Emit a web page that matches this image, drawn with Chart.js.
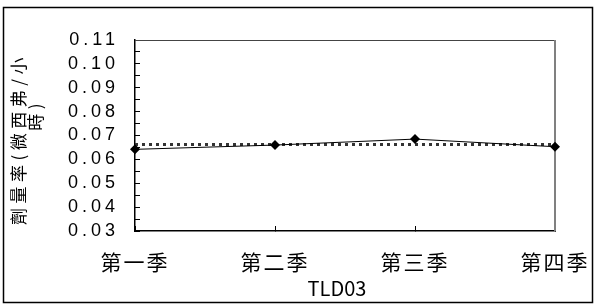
<!DOCTYPE html>
<html>
<head>
<meta charset="utf-8">
<script src="https://cdn.jsdelivr.net/npm/chart.js@4/dist/chart.umd.min.js"></script>
<style>
  html, body { margin: 0; padding: 0; background: #fff; }
  canvas { display: block; }
</style>
</head>
<body>
<canvas id="c" width="594" height="304"></canvas>
<script>
// data
var quarters = ['第一季', '第二季', '第三季', '第四季'];
var doseRate = [0.0642, 0.0660, 0.0685, 0.0653];
var avgLine = [0.0662, 0.0662, 0.0662, 0.0662];
var yTitleLines = ['劑量率(微西弗/小', '時)'];
var xTitle = 'TLD03';
var yMin = 0.03, yMax = 0.11, yStep = 0.005;

function wrapSpacing(scale, spacing) {
  if (!scale || scale._spaced) return;
  var orig = scale.drawLabels;
  scale.drawLabels = function(area) {
    this.ctx.letterSpacing = spacing;
    orig.call(this, area);
    this.ctx.letterSpacing = '0px';
  };
  scale._spaced = true;
}

var framePlugin = {
  id: 'frame',
  beforeDraw: function(chart) {
    wrapSpacing(chart.scales.y, '4px');
    wrapSpacing(chart.scales.x, '2px');
  },
  beforeDatasetsDraw: function(chart) {
    var ctx = chart.ctx, a = chart.chartArea;
    ctx.save();
    // top and right edge of the plot box
    ctx.strokeStyle = '#444';
    ctx.lineWidth = 1;
    ctx.beginPath();
    ctx.moveTo(a.left, a.top + 0.5);
    ctx.lineTo(a.right, a.top + 0.5);
    ctx.stroke();
    ctx.strokeStyle = '#808080';
    ctx.lineWidth = 2;
    ctx.beginPath();
    ctx.moveTo(a.right, a.top);
    ctx.lineTo(a.right, a.bottom);
    ctx.stroke();
    ctx.restore();
  },
  afterDraw: function(chart) {
    var ctx = chart.ctx;
    ctx.save();
    // outer frame
    ctx.strokeStyle = '#000';
    ctx.lineWidth = 1.5;
    ctx.strokeRect(3.5, 7.5, 589, 295);

    // axis titles
    ctx.fillStyle = '#000';
    ctx.textAlign = 'center';
    ctx.textBaseline = 'middle';
    ctx.font = '17px "Noto Sans CJK TC", sans-serif';
    ctx.letterSpacing = '4.5px';
    ctx.save();
    ctx.translate(19, 139);
    ctx.rotate(-Math.PI / 2);
    ctx.fillText(yTitleLines[0], 0, 0);
    ctx.restore();
    ctx.save();
    ctx.translate(36, 115);
    ctx.rotate(-Math.PI / 2);
    ctx.fillText(yTitleLines[1], 0, 0);
    ctx.restore();

    ctx.letterSpacing = '0px';
    ctx.font = '20px "Noto Sans CJK TC", sans-serif';
    ctx.fillText(xTitle, 337, 288);
    ctx.restore();
  }
};

new Chart(document.getElementById('c'), {
  type: 'line',
  data: {
    labels: quarters,
    datasets: [{
      data: doseRate,
      borderColor: '#000',
      backgroundColor: '#000',
      borderWidth: 1,
      pointStyle: 'rectRot',
      pointRadius: 5,
      pointBorderWidth: 0,
      tension: 0,
      clip: false
    }, {
      data: avgLine,
      borderColor: '#333',
      borderWidth: 3,
      borderDash: [3, 4],
      pointRadius: 0,
      tension: 0,
      clip: false
    }]
  },
  options: {
    responsive: false,
    animation: false,
    devicePixelRatio: 1,
    layout: { padding: { top: 40, right: 39, left: 0, bottom: 0 } },
    plugins: {
      legend: { display: false },
      tooltip: { enabled: false }
    },
    scales: {
      x: {
        offset: false,
        grid: {
          drawOnChartArea: false,
          drawTicks: true,
          tickLength: -5,
          color: '#000',
          offset: false
        },
        border: { display: true, color: '#000', width: 1.5 },
        ticks: {
          color: '#000',
          padding: 23,
          maxRotation: 0,
          autoSkip: false,
          font: { family: '"Noto Sans CJK TC", sans-serif', size: 21 }
        },
        afterFit: function(s) {
          s.height = 73;
          s.paddingLeft = 0;
          s.paddingRight = 0;
        }
      },
      y: {
        min: yMin,
        max: yMax,
        grid: {
          drawOnChartArea: false,
          drawTicks: true,
          tickLength: -5,
          color: '#000'
        },
        border: { display: true, color: '#000', width: 1.5 },
        ticks: {
          stepSize: yStep,
          autoSkip: false,
          color: '#000',
          padding: 21,
          font: { family: '"Liberation Sans", Arial, sans-serif', size: 18 },
          callback: function(v, i) {
            return i % 2 === 0 ? v.toFixed(2) : '';
          }
        },
        afterFit: function(s) {
          s.width = 135;
          s.paddingTop = 0;
          s.paddingBottom = 0;
        }
      }
    }
  },
  plugins: [framePlugin]
});
</script>
</body>
</html>
